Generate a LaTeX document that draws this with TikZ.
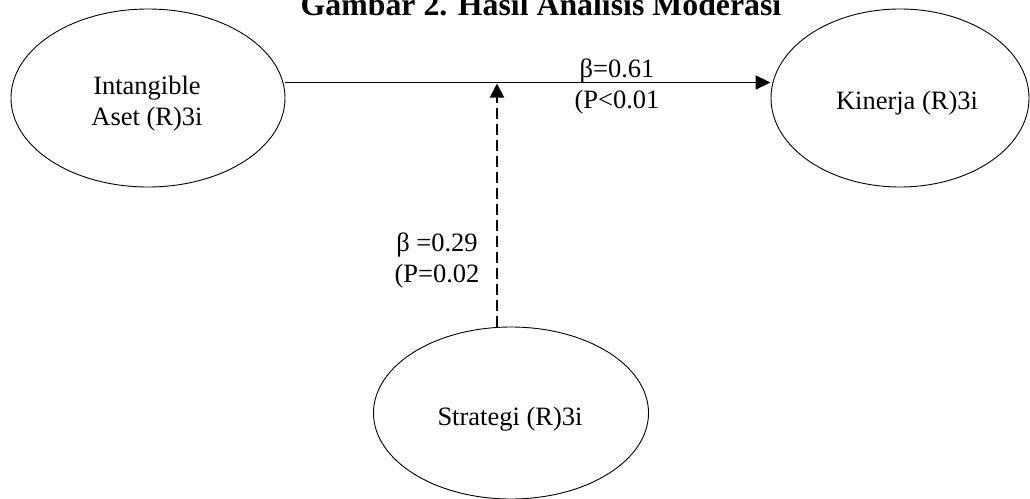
\documentclass[tikz,border=0pt]{standalone}
\usepackage{fontspec}
\setmainfont{Liberation Serif}
\usetikzlibrary{shapes.geometric,arrows.meta}
\begin{document}
\begin{tikzpicture}[x=1pt,y=-1pt,
  lat/.style={draw, ellipse, line width=0.9pt, inner sep=0pt},
  lbl/.style={font=\fontsize{26.5}{31}\selectfont, inner sep=0pt, anchor=base, align=center},
  conn/.style={line width=1.9pt, -{Triangle[length=15pt,width=14pt]}}]
\useasboundingbox (0,0) rectangle (1030,498);
\node[lat, minimum width=274pt, minimum height=178pt] (ia) at (148,98) {};
\node[lat, minimum width=258pt, minimum height=178pt] (kin) at (900,98) {};
\node[lat, minimum width=275pt, minimum height=172pt] (str) at (511,413) {};
\coordinate (h) at (0,82.5);
\coordinate (m) at (497,83.5);
\draw[conn] (ia.east |- h) -- (kin.west |- h);
\draw[conn, dash pattern=on 11pt off 5pt, -{Triangle[length=14pt,width=14pt]}] (str.north -| m) -- (m);
\node[lbl] (iaT) at (147,125) {Intangible\\Aset (R)3i};
\node[lbl] (kinT) at (907,109) {Kinerja (R)3i};
\node[lbl] (strT) at (510,425) {Strategi (R)3i};
\node[lbl] (b1) at (617,108) {β=0.61\\(P<0.01};
\node[lbl] (b2) at (437,282) {β =0.29\\(P=0.02};
\node[font=\fontsize{31.8}{36}\selectfont\bfseries, inner sep=0pt, anchor=base] (title) at (541,15) {Gambar 2. Hasil Analisis Moderasi};
\end{tikzpicture}
\end{document}
